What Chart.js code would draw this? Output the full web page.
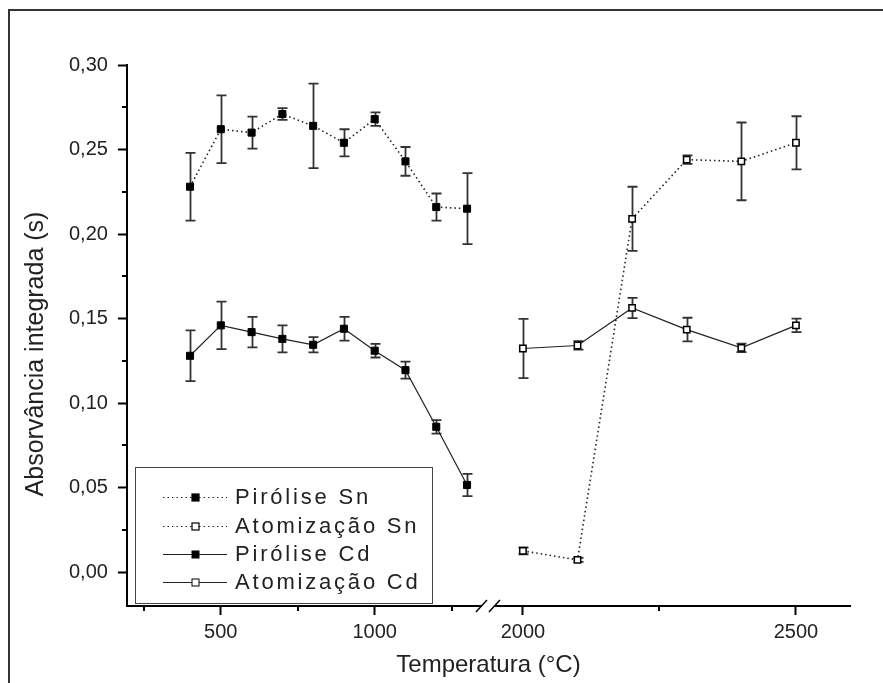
<!DOCTYPE html>
<html lang="pt">
<head>
    <meta charset="UTF-8">
    <title>Absorvância integrada vs Temperatura</title>
    <style>
body {
    margin: 0;
    padding: 0;
    background-color: #fff;
}

#wrap {
    position: relative;
    width: 883px;
    height: 683px;
}
    </style>
    <script src="https://cdn.jsdelivr.net/npm/chart.js"></script>
</head>
<body>
    <div id="wrap">
        <canvas id="absChart"></canvas>
    </div>

    <script>
// Temperatures (°C)
const pyroTemps = [400, 500, 600, 700, 800, 900, 1000, 1100, 1200, 1300];
const atomTemps = [2000, 2100, 2200, 2300, 2400, 2500];

// Integrated absorbance (s) and standard deviations
const pyroSn    = [0.228, 0.262, 0.260, 0.271, 0.264, 0.254, 0.268, 0.243, 0.216, 0.215];
const pyroSnErr = [0.020, 0.020, 0.0095, 0.0035, 0.025, 0.008, 0.004, 0.0085, 0.008, 0.021];
const atomSn    = [0.0126, 0.0073, 0.209, 0.244, 0.243, 0.254];
const atomSnErr = [0.002, 0.0012, 0.019, 0.0025, 0.023, 0.0157];
const pyroCd    = [0.128, 0.146, 0.142, 0.138, 0.1345, 0.144, 0.131, 0.1195, 0.086, 0.0516];
const pyroCdErr = [0.015, 0.014, 0.009, 0.008, 0.0045, 0.007, 0.004, 0.005, 0.004, 0.0066];
const atomCd    = [0.1323, 0.1341, 0.1563, 0.1435, 0.1327, 0.146];
const atomCdErr = [0.0175, 0.0025, 0.006, 0.007, 0.0025, 0.004];

// Ticks
const yTicks = [0, 0.05, 0.10, 0.15, 0.20, 0.25, 0.30];
const yTickLabels = ['0,00', '0,05', '0,10', '0,15', '0,20', '0,25', '0,30'];
const yMinor = [0.025, 0.075, 0.125, 0.175, 0.225, 0.275];
const xLeftTicks = [500, 1000];
const xLeftLabels = ['500', '1000'];
const xLeftMinor = [250, 750, 1250];
const xRightTicks = [2000, 2500];
const xRightLabels = ['2000', '2500'];
const xRightMinor = [2250];

const FONT = "Arial, 'Liberation Sans', sans-serif";

function toPoints(xs, ys) {
    return xs.map((x, i) => ({ x: x, y: ys[i] }));
}

function fixedTicks(values) {
    return scale => { scale.ticks = values.map(v => ({ value: v })); };
}

// frame, error bars, minor ticks, axis break, legend, titles
const decor = {
    id: 'decor',
    beforeDraw(chart) {
        const ctx = chart.ctx;
        ctx.save();
        ctx.strokeStyle = '#333';
        ctx.lineWidth = 2;
        ctx.beginPath();
        ctx.moveTo(9, 683);
        ctx.lineTo(9, 10);
        ctx.lineTo(883, 10);
        ctx.stroke();
        ctx.restore();
    },
    beforeDatasetsDraw(chart) {
        const ctx = chart.ctx;
        const y = chart.scales.y;
        ctx.save();
        ctx.strokeStyle = '#333';
        ctx.lineWidth = 1.8;
        chart.data.datasets.forEach(ds => {
            const xs = chart.scales[ds.xAxisID];
            ds.data.forEach((p, i) => {
                const e = ds.errors[i];
                const px = Math.round(xs.getPixelForValue(p.x)) + 0.5;
                const top = y.getPixelForValue(p.y + e);
                const bot = y.getPixelForValue(p.y - e);
                ctx.beginPath();
                ctx.moveTo(px, top);
                ctx.lineTo(px, bot);
                ctx.moveTo(px - 5, top);
                ctx.lineTo(px + 5, top);
                ctx.moveTo(px - 5, bot);
                ctx.lineTo(px + 5, bot);
                ctx.stroke();
            });
        });
        ctx.restore();
    },
    afterDraw(chart) {
        const ctx = chart.ctx;
        const area = chart.chartArea;
        const y = chart.scales.y;
        const xl = chart.scales.xLeft;
        const xr = chart.scales.xRight;
        ctx.save();

        // minor ticks
        ctx.strokeStyle = '#000';
        ctx.lineWidth = 2;
        ctx.beginPath();
        yMinor.forEach(v => {
            const py = Math.round(y.getPixelForValue(v));
            ctx.moveTo(area.left, py);
            ctx.lineTo(area.left - 5, py);
        });
        xLeftMinor.forEach(v => {
            const px = Math.round(xl.getPixelForValue(v));
            ctx.moveTo(px, area.bottom);
            ctx.lineTo(px, area.bottom + 5);
        });
        xRightMinor.forEach(v => {
            const px = Math.round(xr.getPixelForValue(v));
            ctx.moveTo(px, area.bottom);
            ctx.lineTo(px, area.bottom + 5);
        });
        ctx.stroke();

        // axis break
        const bx = xl.right;
        ctx.fillStyle = '#fff';
        ctx.fillRect(bx - 6, area.bottom - 3, 12, 6);
        ctx.strokeStyle = '#000';
        ctx.lineWidth = 1.5;
        ctx.beginPath();
        ctx.moveTo(bx - 12, area.bottom + 6);
        ctx.lineTo(bx - 1, area.bottom - 6);
        ctx.moveTo(bx + 1, area.bottom + 6);
        ctx.lineTo(bx + 12, area.bottom - 6);
        ctx.stroke();

        // legend
        const lx = 135, ly = 467, lw = 297, lh = 136;
        ctx.fillStyle = '#fff';
        ctx.fillRect(lx, ly, lw, lh);
        ctx.strokeStyle = '#444';
        ctx.lineWidth = 1;
        ctx.strokeRect(lx + 0.5, ly + 0.5, lw, lh);
        const rows = [497, 526, 554, 582];
        ctx.font = '22px ' + FONT;
        ctx.textBaseline = 'middle';
        ctx.textAlign = 'left';
        chart.data.datasets.forEach((ds, i) => {
            const ry = rows[i] + 0.5;
            ctx.strokeStyle = '#222';
            ctx.lineWidth = ds.borderDash.length ? 1.2 : 1;
            ctx.setLineDash(ds.borderDash);
            ctx.beginPath();
            ctx.moveTo(163, ry);
            ctx.lineTo(227, ry);
            ctx.stroke();
            ctx.setLineDash([]);
            ctx.fillStyle = ds.backgroundColor;
            ctx.fillRect(192, ry - 3.5, 7, 7);
            ctx.strokeStyle = '#000';
            ctx.strokeRect(192, ry - 3.5, 7, 7);
            ctx.fillStyle = '#222';
            ctx.letterSpacing = '2.8px';
            ctx.fillText(ds.label, 235, rows[i] + 1);
            ctx.letterSpacing = '0px';
        });

        // axis titles
        ctx.fillStyle = '#222';
        ctx.textBaseline = 'alphabetic';
        ctx.textAlign = 'center';
        ctx.font = '24px ' + FONT;
        ctx.fillText('Temperatura (°C)', (area.left + area.right) / 2, 672);
        ctx.translate(43, 354);
        ctx.rotate(-Math.PI / 2);
        ctx.font = '25px ' + FONT;
        ctx.fillText('Absorvância integrada (s)', 0, 0);
        ctx.restore();
    }
};

const tickFont = { family: FONT, size: 20 };
const majorGrid = {
    display: true,
    drawOnChartArea: false,
    drawTicks: true,
    tickLength: 9,
    tickWidth: 2,
    tickColor: '#000'
};
const axisBorder = { display: true, color: '#000', width: 2 };

new Chart(document.getElementById('absChart'), {
    type: 'line',
    data: {
        datasets: [
            {
                label: 'Pirólise Sn',
                data: toPoints(pyroTemps, pyroSn),
                errors: pyroSnErr,
                xAxisID: 'xLeft',
                borderColor: '#222',
                borderWidth: 1.6,
                borderDash: [1.5, 3],
                backgroundColor: '#000',
                pointStyle: 'rect',
                pointRadius: 5,
                pointBorderWidth: 1,
                pointBorderColor: '#000',
                pointBackgroundColor: '#000'
            },
            {
                label: 'Atomização Sn',
                data: toPoints(atomTemps, atomSn),
                errors: atomSnErr,
                xAxisID: 'xRight',
                borderColor: '#222',
                borderWidth: 1.6,
                borderDash: [1.5, 3],
                backgroundColor: '#fff',
                pointStyle: 'rect',
                pointRadius: 4.5,
                pointBorderWidth: 1.5,
                pointBorderColor: '#000',
                pointBackgroundColor: '#fff'
            },
            {
                label: 'Pirólise Cd',
                data: toPoints(pyroTemps, pyroCd),
                errors: pyroCdErr,
                xAxisID: 'xLeft',
                borderColor: '#222',
                borderWidth: 1.2,
                borderDash: [],
                backgroundColor: '#000',
                pointStyle: 'rect',
                pointRadius: 5,
                pointBorderWidth: 1,
                pointBorderColor: '#000',
                pointBackgroundColor: '#000'
            },
            {
                label: 'Atomização Cd',
                data: toPoints(atomTemps, atomCd),
                errors: atomCdErr,
                xAxisID: 'xRight',
                borderColor: '#222',
                borderWidth: 1.2,
                borderDash: [],
                backgroundColor: '#fff',
                pointStyle: 'rect',
                pointRadius: 4.5,
                pointBorderWidth: 1.5,
                pointBorderColor: '#000',
                pointBackgroundColor: '#fff'
            }
        ]
    },
    options: {
        responsive: true,
        maintainAspectRatio: false,
        animation: false,
        layout: { padding: { left: 59, right: 33, top: 65, bottom: 34 } },
        plugins: {
            legend: { display: false },
            tooltip: { enabled: false }
        },
        scales: {
            xLeft: {
                type: 'linear',
                position: 'bottom',
                stack: 'x',
                stackWeight: 361,
                min: 195,
                max: 1368,
                afterBuildTicks: fixedTicks(xLeftTicks),
                ticks: {
                    font: tickFont,
                    color: '#222',
                    padding: 5,
                    maxRotation: 0,
                    callback: (value, index) => xLeftLabels[index]
                },
                grid: majorGrid,
                border: axisBorder
            },
            xRight: {
                type: 'linear',
                position: 'bottom',
                stack: 'x',
                stackWeight: 362,
                min: 1936,
                max: 2599,
                afterBuildTicks: fixedTicks(xRightTicks),
                ticks: {
                    font: tickFont,
                    color: '#222',
                    padding: 5,
                    maxRotation: 0,
                    callback: (value, index) => xRightLabels[index]
                },
                grid: majorGrid,
                border: axisBorder
            },
            y: {
                type: 'linear',
                position: 'left',
                min: -0.02,
                max: 0.30,
                afterBuildTicks: fixedTicks(yTicks),
                ticks: {
                    font: tickFont,
                    color: '#222',
                    padding: 10,
                    callback: (value, index) => yTickLabels[index]
                },
                grid: majorGrid,
                border: axisBorder
            }
        }
    },
    plugins: [decor]
});
    </script>
</body>
</html>
